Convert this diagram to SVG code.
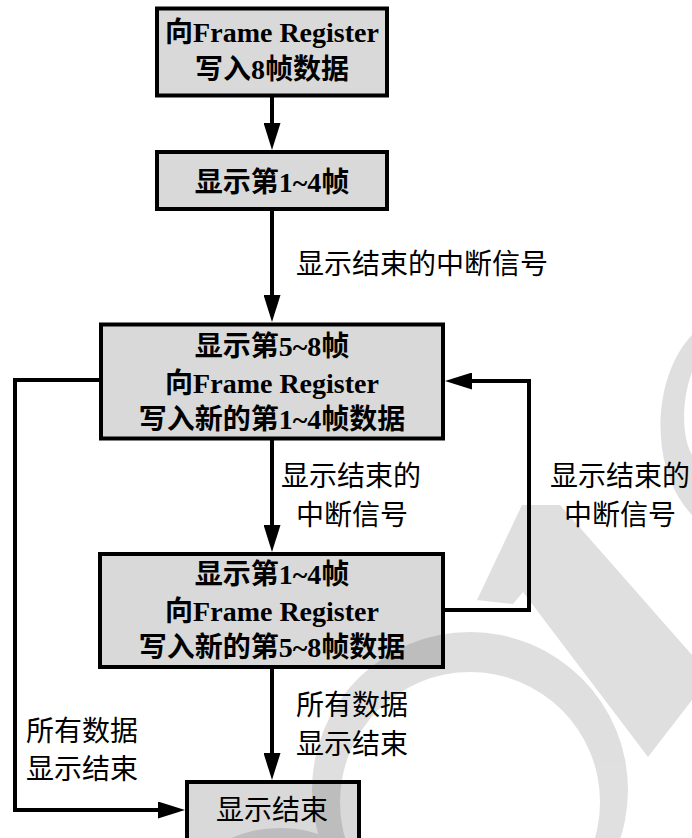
<svg xmlns="http://www.w3.org/2000/svg" width="692" height="838" viewBox="0 0 692 838">
  <style>
    .box { fill: #d9d9d9; stroke: #000; stroke-width: 4; }
    .bt { font-family: "Liberation Serif", "Noto Sans CJK SC", serif; font-weight: bold; font-size: 28px; text-anchor: middle; fill: #000; }
    .lt { font-family: "Noto Sans CJK SC", "Liberation Sans", sans-serif; font-size: 28px; text-anchor: middle; fill: #000; }
    .conn { fill: none; stroke: #000; stroke-width: 4; stroke-linejoin: miter; }
  </style>
  <defs>
    <marker id="arr" viewBox="0 0 27 17" refX="0" refY="8.5" markerWidth="27" markerHeight="17" markerUnits="userSpaceOnUse" orient="auto">
      <polygon points="0,0 27,8.5 0,17" fill="#000"/>
    </marker>
  </defs>
  <rect width="692" height="838" fill="#fff"/>

  <g id="connectors">
    <path class="conn" d="M272,97 L272,123" marker-end="url(#arr)"/>
    <path class="conn" d="M272,211 L272,295" marker-end="url(#arr)"/>
    <path class="conn" d="M272,440 L272,525" marker-end="url(#arr)"/>
    <path class="conn" d="M272,669 L272,753" marker-end="url(#arr)"/>
    <path class="conn" d="M445,610 L529,610 L529,381 L472,381" marker-end="url(#arr)"/>
    <path class="conn" d="M99,380 L15,380 L15,810 L158,810" marker-end="url(#arr)"/>
  </g>

  <g id="n1">
    <rect class="box" x="157" y="8.5" width="230" height="87"/>
    <text class="bt" x="272" y="42">向Frame Register</text>
    <text class="bt" x="272" y="79">写入8帧数据</text>
  </g>
  <g id="n2">
    <rect class="box" x="157" y="152" width="230" height="57"/>
    <text class="bt" x="272" y="192">显示第1~4帧</text>
  </g>
  <g id="n3">
    <rect class="box" x="101" y="324.5" width="342" height="114"/>
    <text class="bt" x="272" y="356">显示第5~8帧</text>
    <text class="bt" x="272" y="393">向Frame Register</text>
    <text class="bt" x="272" y="429">写入新的第1~4帧数据</text>
  </g>
  <g id="n4">
    <rect class="box" x="100" y="554" width="343" height="113"/>
    <text class="bt" x="272" y="584">显示第1~4帧</text>
    <text class="bt" x="272" y="621">向Frame Register</text>
    <text class="bt" x="272" y="657">写入新的第5~8帧数据</text>
  </g>
  <g id="n5">
    <rect class="box" x="187" y="782" width="172" height="70"/>
    <text class="lt" x="272" y="820">显示结束</text>
  </g>

  <g id="labels">
    <text class="lt" x="422" y="274">显示结束的中断信号</text>
    <text class="lt" x="351" y="486">显示结束的</text>
    <text class="lt" x="352" y="525">中断信号</text>
    <text class="lt" x="620" y="486">显示结束的</text>
    <text class="lt" x="620" y="525">中断信号</text>
    <text class="lt" x="352" y="715">所有数据</text>
    <text class="lt" x="352" y="754">显示结束</text>
    <text class="lt" x="82" y="741">所有数据</text>
    <text class="lt" x="82" y="779">显示结束</text>
  </g>

  <g id="watermark" opacity="0.12" fill="#000">
    <path d="M692,335 C668,360 656,405 662,448 C666,478 678,500 692,515 L692,455 C683,440 680,405 692,372 Z"/>
    <path d="M477,600 L522,505 L560,505 L692,655 L692,700 L648,757 L523,592 L513,604 Z"/>
    <path fill-rule="evenodd" d="M312,790 A158,158 0 1,1 628,790 A158,158 0 1,1 312,790 Z M340,802 A130,130 0 1,0 600,802 A130,130 0 1,0 340,802 Z"/>
    <ellipse cx="280" cy="870" rx="75" ry="42"/>
  </g>
</svg>
